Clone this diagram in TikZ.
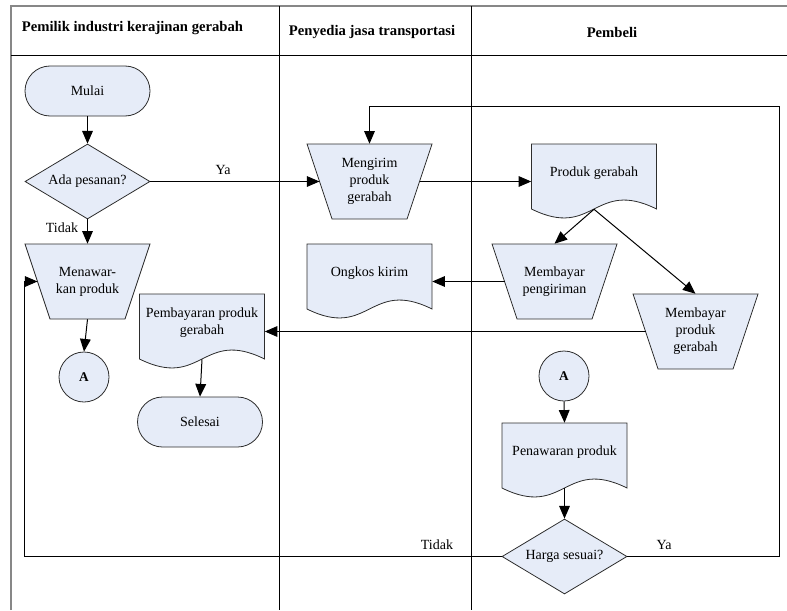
\documentclass[tikz,border=0pt]{standalone}
\usepackage{fontspec}
\setmainfont{Liberation Serif}
\usetikzlibrary{shapes.geometric,arrows.meta,calc}
\definecolor{shfill}{RGB}{230,236,248}
\definecolor{shline}{RGB}{45,45,45}
\definecolor{framegray}{RGB}{135,135,135}
\tikzset{
  shp/.style={draw=shline,fill=shfill,line width=0.6pt},
  box/.style={rectangle,inner sep=0pt,align=center},
  term/.style={shp,rectangle,rounded corners=18.75pt,minimum width=93.75pt,minimum height=37.5pt,inner sep=0pt,align=center},
  dec/.style={shp,diamond,aspect=1.667,minimum width=93.75pt,minimum height=56.25pt,inner sep=0pt,align=center},
  conn/.style={shp,circle,minimum size=37.5pt,inner sep=0pt,font=\bfseries},
  flow/.style={draw=black,line width=0.75pt,-{Triangle[length=9.5pt,width=8pt]}},
  plain/.style={draw=black,line width=0.75pt},
  framel/.style={draw=framegray,line width=1.1pt},
  hdr/.style={font=\fontsize{11}{13}\selectfont\bfseries,inner sep=0pt},
  lbl/.style={inner sep=0pt}
}
\newcommand\trapnode[4]{%
  \path[shp] (#2-62.5,#3-37.5) -- (#2+62.5,#3-37.5) -- (#2+37.5,#3+37.5) -- (#2-37.5,#3+37.5) -- cycle;
  \node[box,minimum width=93.75pt,minimum height=56.25pt] (#1) at (#2,#3) {#4};
  \coordinate (#1-l) at (#2-50,#3);
  \coordinate (#1-r) at (#2+50,#3);}
\newcommand\docnode[4]{%
  \path[shp] (#2-62.5,#3-32.5) -- (#2+62.5,#3-32.5) -- (#2+62.5,#3+32.5) .. controls (#2,#3+1.5) and (#2,#3+63.5) .. (#2-62.5,#3+32.5) -- cycle;
  \node[box,minimum width=93.75pt,minimum height=48.75pt] (#1) at (#2,#3) {};
  \node[box] (#1-t) at (#2,#3-3.5) {#4};}
\begin{document}
\begin{tikzpicture}[x=0.75pt,y=-0.75pt,font=\fontsize{10.5}{12.75}\selectfont]
\useasboundingbox (0,0) rectangle (787,610);
% frame and lanes
\draw[framel] (11,610) -- (11,6) -- (787,6);
\draw[plain] (11,56) -- (787,56);
\draw[plain] (279,6) -- (279,610);
\draw[plain] (471,6) -- (471,610);
\node[hdr] (h1) at (132.5,28) {Pemilik industri kerajinan gerabah};
\node[hdr] (h2) at (372,32) {Penyedia jasa transportasi};
\node[hdr] (h3) at (612,32) {Pembeli};
% lane 1
\node[term] (mulai) at (87.5,91) {Mulai};
\node[dec] (ada) at (87.5,181.5) {Ada pesanan?};
\trapnode{mw}{87.5}{281.5}{Menawar-\\kan produk}
\node[conn] (a1) at (84,377) {A};
\docnode{pb}{202}{326.5}{Pembayaran produk\\gerabah}
\node[term] (sel) at (200,422) {Selesai};
% lane 2
\trapnode{mg}{369.5}{181.5}{Mengirim\\produk\\gerabah}
\docnode{ok}{369.5}{276.5}{Ongkos kirim}
% lane 3
\docnode{pg}{594}{176.5}{Produk gerabah}
\trapnode{mp}{554.5}{281.5}{Membayar\\pengiriman}
\trapnode{mpg}{695.5}{331.5}{Membayar\\produk\\gerabah}
\node[conn] (a2) at (564,376) {A};
\docnode{pw}{564.5}{455.5}{Penawaran produk}
\node[dec] (hs) at (564.5,556.5) {Harga sesuai?};
% loop coordinates
\coordinate (lx) at (24,281.5);
\coordinate (tr) at (779,106);
% connectors
\draw[flow] (mulai) -- (ada);
\draw[flow] (ada.east) -- (mg-l);
\node[lbl] (ya1) at (223,170) {Ya};
\draw[flow] (ada.south) -- (mw.north);
\node[lbl] (td1) at (62,228) {Tidak};
\draw[flow] (mw.south) -- (a1.north);
\draw[flow] (mg-r) -- (mg-r -| pg.west);
\draw[flow] (pg.south) -- (mp.north);
\draw[flow] (pg.south) -- (mpg.north);
\draw[flow] (mp-l) -- (mp-l -| ok.east);
\draw[flow] (mpg-l) -- (mpg-l -| pb.east);
\draw[flow] (pb.south) -- (sel.north);
\draw[flow] (a2.south) -- (pw.north);
\draw[flow] (pw.south) -- (hs.north);
\draw[flow] (hs.west) -- (lx |- hs.west) -- (lx) -- (mw-l);
\node[lbl] (td2) at (437,545) {Tidak};
\draw[flow] (hs.east) -| (tr) -| (mg.north);
\node[lbl] (ya2) at (664,545) {Ya};
\end{tikzpicture}
\end{document}
